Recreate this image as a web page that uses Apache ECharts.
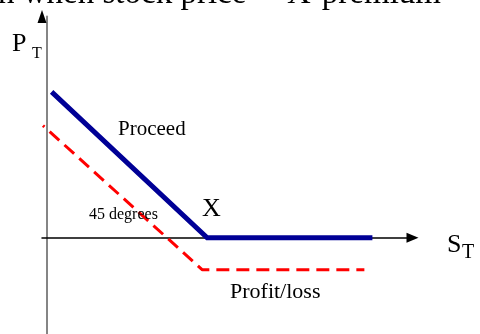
<!DOCTYPE html>
<html>
<head>
<meta charset="utf-8">
<script src="https://cdn.jsdelivr.net/npm/echarts@6/dist/echarts.min.js"></script>
<style>
html, body { margin: 0; padding: 0; background: #fff; }
#chart { width: 480px; height: 334px; }
</style>
</head>
<body>
<div id="chart"></div>
<script>
// Long put at expiry: payoff ("Proceed") and net profit after the premium
const strike = 100;
const premium = 20;
const proceedS = [3, 100, 203];
const proceedP = [91, 0, 0];
const profitS = [-2.4, 97, 198];
const profitP = [70, -20, -20];

const serif = '"Liberation Serif", "DejaVu Serif", serif';

function pairs(xs, ys) {
  return xs.map((x, i) => [x, ys[i]]);
}

function txt(text, x, y, size) {
  return {
    type: 'text', x: x, y: y, z: 20,
    style: { text: text, fontSize: size, fontFamily: serif, fill: '#000', textVerticalAlign: 'top' }
  };
}

const chart = echarts.init(document.getElementById('chart'), null, { renderer: 'canvas' });

const hidden = { axisTick: { show: false }, axisLabel: { show: false }, splitLine: { show: false } };

chart.setOption({
  animation: false,
  grid: { left: 42, right: 67.5, top: 16.5, bottom: 0, containLabel: false },
  xAxis: Object.assign({
    type: 'value', min: -3, max: 228,
    axisLine: {
      show: true, onZero: true,
      symbol: ['none', 'triangle'], symbolSize: [10, 12],
      lineStyle: { color: '#000', width: 1.5 }
    }
  }, hidden),
  yAxis: [
    Object.assign({
      type: 'value', min: -60, max: 138,
      axisLine: { show: true, onZero: true, lineStyle: { color: '#858585', width: 2 } }
    }, hidden),
    Object.assign({
      type: 'value', min: -60, max: 138, position: 'left',
      axisLine: {
        show: true, onZero: true,
        symbol: ['none', 'triangle'], symbolSize: [9, 13],
        lineStyle: { color: '#000', width: 0 }
      }
    }, hidden)
  ],
  series: [
    {
      name: 'Profit/loss', type: 'line', yAxisIndex: 0,
      data: pairs(profitS, profitP), showSymbol: false, z: 3,
      lineStyle: { color: '#ff0000', width: 3, type: [13, 7], dashOffset: 11 }
    },
    {
      name: 'Proceed', type: 'line', yAxisIndex: 0,
      data: pairs(proceedS, proceedP), showSymbol: false, z: 4,
      lineStyle: { color: '#000096', width: 5, cap: 'butt', join: 'miter' }
    }
  ],
  graphic: [
    txt('n when stock price', -2, -22, 33),
    txt('X-premium', 287, -22, 33),
    txt('P', 12, 31, 26),
    txt('T', 32, 46, 16),
    txt('Proceed', 118, 119, 21),
    txt('X', 202, 196, 26),
    txt('45 degrees', 89, 207, 16),
    txt('Profit/loss', 230, 281, 22),
    txt('S', 447, 232, 26),
    txt('T', 462, 243, 20)
  ]
});
</script>
</body>
</html>
